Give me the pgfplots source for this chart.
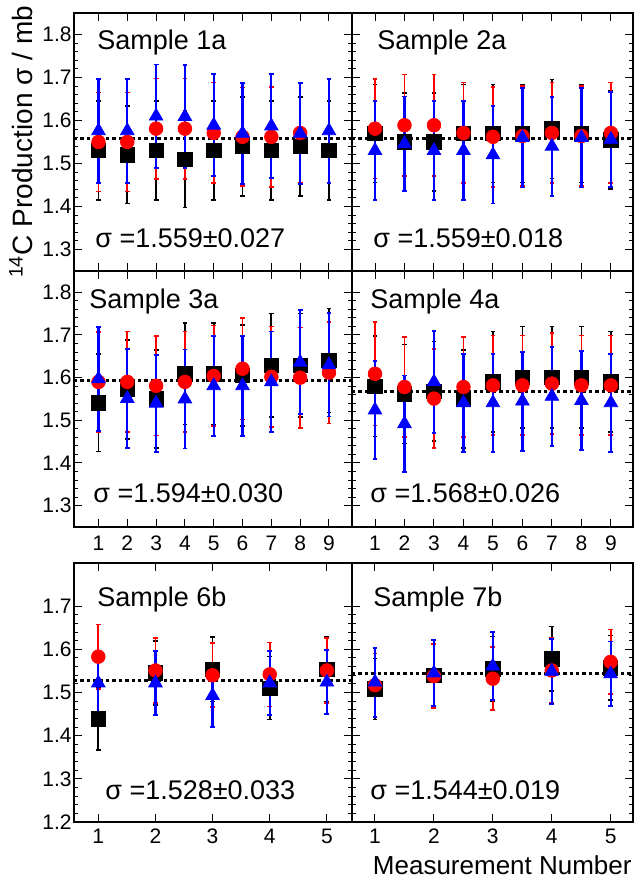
\documentclass[border=0pt]{standalone}
\usepackage{fontspec}
\setmainfont{Liberation Sans}
\usepackage{pgfplots}
\pgfplotsset{compat=1.18}
\pgfplotsset{
 panel/.style={
  scale only axis,
  axis line style={line width=0.8pt},
  tick align=inside,
  major tick length=4pt,
  minor tick length=2.2pt,
  every tick/.append style={line width=0.5pt, black},
  tick label style={font=\fontsize{10.5}{10.5}\selectfont},
  /pgf/number format/assume math mode=true,
  yticklabel style={inner xsep=1pt},
  clip=false,
 },
 toprow/.style={panel, ymin=1.25, ymax=1.85, ytick={1.3,1.4,1.5,1.6,1.7,1.8}, minor y tick num=4, xtick={1,2,3,4,5,6,7,8,9}, height=129pt},
 midrow/.style={panel, ymin=1.25, ymax=1.85, ytick={1.3,1.4,1.5,1.6,1.7,1.8}, minor y tick num=4, xtick={1,2,3,4,5,6,7,8,9}, height=128pt},
 botrow/.style={panel, ymin=1.2, ymax=1.8, ytick={1.2,1.3,1.4,1.5,1.6,1.7}, minor y tick num=4, xtick={1,2,3,4,5}, height=129.5pt},
 leftcol/.style={width=139pt},
 rightcol/.style={width=140.5pt, yticklabels={}},
 sblk/.style={only marks, mark=square*, mark size=3.6pt, black, mark options={fill=black, draw=black},
   error bars/.cd, y dir=both, y explicit, error bar style={line width=0.9pt, black},
   error mark options={rotate=90, line width=0.8pt, black, mark size=1.2pt}},
 sred/.style={only marks, mark=*, mark size=3.4pt, red, mark options={fill=red, draw=red},
   error bars/.cd, y dir=both, y explicit, error bar style={line width=0.9pt, red},
   error mark options={rotate=90, line width=0.8pt, red, mark size=1.2pt}},
 sblu/.style={only marks, mark=triangle*, mark size=3.9pt, blue, mark options={fill=blue, draw=blue},
   error bars/.cd, y dir=both, y explicit, error bar style={line width=1.1pt, blue},
   error mark options={rotate=90, line width=0.9pt, blue, mark size=1.2pt}},
 dline/.style={black, line width=1.5pt, dash pattern=on 1.7pt off 1.5pt},
}
\begin{document}
\begin{tikzpicture}
\useasboundingbox (0,0) rectangle (319pt,441pt);
% ---------- Sample 1a ----------
\begin{axis}[toprow, leftcol, at={(37pt,305.5pt)}, anchor=south west, xmin=0.15, xmax=9.8, xticklabels={}]
\addplot[dline] coordinates {(0.15,1.559) (9.8,1.559)};
\addplot[sblk] table[x index=0, y index=1, y error index=2] {
1 1.530 0.115
2 1.520 0.113
3 1.530 0.115
4 1.510 0.112
5 1.530 0.115
6 1.540 0.115
7 1.530 0.115
8 1.540 0.115
9 1.530 0.115
};
\addplot[sred] table[x index=0, y index=1, y error index=2] {
1 1.550 0.115
2 1.550 0.115
3 1.581 0.117
4 1.581 0.117
5 1.571 0.117
6 1.562 0.115
7 1.562 0.116
8 1.571 0.116
};
\addplot[sblu] table[x index=0, y index=1, y error index=2] {
1 1.576 0.121
2 1.576 0.121
3 1.610 0.120
4 1.609 0.120
5 1.589 0.119
6 1.570 0.117
7 1.587 0.121
8 1.570 0.117
9 1.576 0.121
};
\end{axis}
% ---------- Sample 2a ----------
\begin{axis}[toprow, rightcol, at={(176pt,305.5pt)}, anchor=south west, xmin=0.22, xmax=9.75, xticklabels={}]
\addplot[dline] coordinates {(0.22,1.559) (9.75,1.559)};
\addplot[sblk] table[x index=0, y index=1, y error index=2] {
1 1.570 0.114
2 1.550 0.114
3 1.550 0.114
4 1.570 0.114
5 1.570 0.114
6 1.570 0.114
7 1.580 0.115
8 1.570 0.114
9 1.555 0.114
};
\addplot[sred] table[x index=0, y index=1, y error index=2] {
1 1.581 0.116
2 1.589 0.118
3 1.589 0.118
4 1.571 0.117
5 1.562 0.116
6 1.564 0.116
7 1.571 0.117
8 1.564 0.116
9 1.571 0.117
};
\addplot[sblu] table[x index=0, y index=1, y error index=2] {
1 1.530 0.115
2 1.546 0.110
3 1.530 0.115
4 1.530 0.115
5 1.520 0.113
6 1.560 0.116
7 1.540 0.115
8 1.560 0.116
9 1.556 0.111
};
\end{axis}
% ---------- Sample 3a ----------
\begin{axis}[midrow, leftcol, at={(37pt,177.5pt)}, anchor=south west, xmin=0.15, xmax=9.8, xticklabel style={inner ysep=4.3pt}]
\addplot[dline] coordinates {(0.15,1.594) (9.8,1.594)};
\addplot[sblk] table[x index=0, y index=1, y error index=2] {
1 1.541 0.114
2 1.572 0.116
3 1.550 0.115
4 1.609 0.119
5 1.609 0.119
6 1.605 0.119
7 1.629 0.121
8 1.629 0.121
9 1.640 0.122
};
\addplot[sred] table[x index=0, y index=1, y error index=2] {
1 1.590 0.117
2 1.590 0.118
3 1.581 0.117
4 1.590 0.118
5 1.604 0.118
6 1.621 0.119
7 1.602 0.118
8 1.600 0.118
9 1.612 0.119
};
\addplot[sblu] table[x index=0, y index=1, y error index=2] {
1 1.597 0.122
2 1.551 0.116
3 1.540 0.114
4 1.550 0.116
5 1.581 0.117
6 1.581 0.117
7 1.590 0.118
8 1.636 0.122
9 1.630 0.121
};
\end{axis}
% ---------- Sample 4a ----------
\begin{axis}[midrow, rightcol, at={(176pt,177.5pt)}, anchor=south west, xmin=0.22, xmax=9.75, xticklabel style={inner ysep=4.3pt}]
\addplot[dline] coordinates {(0.22,1.568) (9.75,1.568)};
\addplot[sblk] table[x index=0, y index=1, y error index=2] {
1 1.580 0.118
2 1.562 0.116
3 1.568 0.117
4 1.550 0.115
5 1.590 0.118
6 1.601 0.119
7 1.601 0.119
8 1.601 0.119
9 1.590 0.118
};
\addplot[sred] table[x index=0, y index=1, y error index=2] {
1 1.609 0.121
2 1.578 0.117
3 1.551 0.116
4 1.578 0.117
5 1.582 0.117
6 1.582 0.117
7 1.586 0.118
8 1.582 0.117
9 1.582 0.117
};
\addplot[sblu] table[x index=0, y index=1, y error index=2] {
1 1.524 0.115
2 1.492 0.113
3 1.590 0.120
4 1.541 0.115
5 1.541 0.115
6 1.545 0.116
7 1.556 0.116
8 1.546 0.116
9 1.541 0.115
};
\end{axis}
% ---------- Sample 6b ----------
\begin{axis}[botrow, leftcol, at={(37pt,30pt)}, anchor=south west, xmin=0.575, xmax=5.44, xticklabel style={inner ysep=3.2pt}]
\addplot[dline] coordinates {(0.575,1.528) (5.44,1.528)};
\addplot[sblk] table[x index=0, y index=1, y error index=2] {
1 1.439 0.072
2 1.545 0.074
3 1.554 0.075
4 1.510 0.073
5 1.554 0.075
};
\addplot[sred] table[x index=0, y index=1, y error index=2] {
1 1.583 0.075
2 1.551 0.075
3 1.540 0.074
4 1.542 0.074
5 1.551 0.075
};
\addplot[sblu] table[x index=0, y index=1, y error index=2] {
1 1.522 0.070
2 1.522 0.074
3 1.493 0.073
4 1.522 0.074
5 1.524 0.074
};
\end{axis}
% ---------- Sample 7b ----------
\begin{axis}[botrow, rightcol, at={(176pt,30pt)}, anchor=south west, xmin=0.61, xmax=5.38, xticklabel style={inner ysep=3.2pt}]
\addplot[dline] coordinates {(0.61,1.544) (5.38,1.544)};
\addplot[sblk] table[x index=0, y index=1, y error index=2] {
1 1.508 0.071
2 1.539 0.074
3 1.555 0.075
4 1.578 0.075
5 1.557 0.075
};
\addplot[sred] table[x index=0, y index=1, y error index=2] {
1 1.517 0.073
2 1.538 0.074
3 1.532 0.073
4 1.551 0.075
5 1.571 0.075
};
\addplot[sblu] table[x index=0, y index=1, y error index=2] {
1 1.524 0.080
2 1.545 0.076
3 1.561 0.079
4 1.549 0.075
5 1.543 0.075
};
\end{axis}
% ---------- texts ----------
\begin{scope}[every node/.style={anchor=base west, inner sep=0pt, font=\fontsize{13.5}{13.5}\selectfont}]
\node at (48.5pt,416pt) {Sample 1a};
\node at (188.5pt,416pt) {Sample 2a};
\node at (44.5pt,286.5pt) {Sample 3a};
\node at (185pt,286.5pt) {Sample 4a};
\node at (48.5pt,137.5pt) {Sample 6b};
\node at (186.5pt,137.5pt) {Sample 7b};
\node at (47.5pt,317pt) {σ =1.559±0.027};
\node at (186.5pt,317pt) {σ =1.559±0.018};
\node at (46.5pt,189.5pt) {σ =1.594±0.030};
\node at (185pt,189.5pt) {σ =1.568±0.026};
\node at (52.5pt,41pt) {σ =1.528±0.033};
\node at (185pt,41pt) {σ =1.544±0.019};
\end{scope}
\node[anchor=base, rotate=90, inner sep=0pt, font=\fontsize{14}{14}\selectfont] at (16.5pt,370pt) {\textsuperscript{14}C Production σ / mb};
\node[anchor=base east, inner sep=0pt, font=\fontsize{13}{13}\selectfont] at (316pt,3.5pt) {Measurement Number};
\end{tikzpicture}
\end{document}
